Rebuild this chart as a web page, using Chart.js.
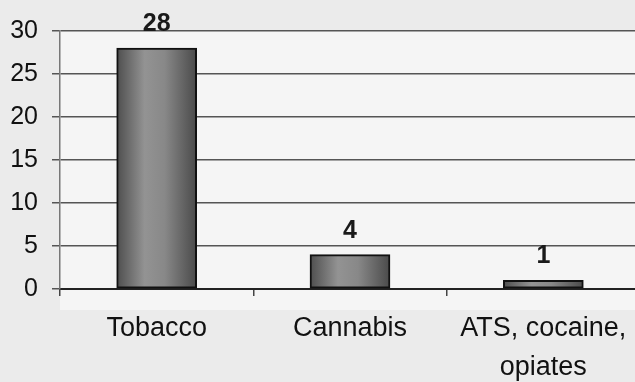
<!DOCTYPE html>
<html>
<head>
<meta charset="utf-8">
<script src="https://cdn.jsdelivr.net/npm/chart.js@4/dist/chart.umd.min.js"></script>
<style>
  html, body { margin: 0; padding: 0; background: #ebebeb; }
  #wrap { width: 635px; height: 382px; overflow: hidden; position: relative; }
  #c { display: block; }
</style>
</head>
<body>
<div id="wrap"><canvas id="c" width="641" height="382"></canvas></div>
<script>
// Substance categories and the number of cases for each
const categories = ['Tobacco', 'Cannabis', ['ATS, cocaine,', 'opiates']];
const cases = [28, 4, 1];
const axisMin = 0;
const axisMax = 30;
const axisStep = 5;

const FONT = '"Liberation Sans", Arial, sans-serif';

// Soft page tones behind and inside the plot area
const backdrop = {
  id: 'backdrop',
  beforeDraw(chart) {
    const { ctx, chartArea: a, width, height } = chart;
    ctx.save();
    ctx.fillStyle = '#ebebeb';
    ctx.fillRect(0, 0, width, height);
    ctx.fillStyle = '#f5f5f5';
    ctx.fillRect(a.left, a.top, a.right - a.left, a.bottom - a.top + 21);
    ctx.restore();
  }
};

// Value written above every bar
const valueLabels = {
  id: 'valueLabels',
  afterDatasetsDraw(chart) {
    const { ctx } = chart;
    const meta = chart.getDatasetMeta(0);
    ctx.save();
    ctx.font = 'bold 25px ' + FONT;
    ctx.fillStyle = '#1a1a1a';
    ctx.textAlign = 'center';
    ctx.textBaseline = 'alphabetic';
    meta.data.forEach((bar, i) => {
      ctx.fillText(String(cases[i]), bar.x, bar.y - 17);
    });
    ctx.restore();
  }
};

// Shaded, cylinder-like fill for each bar
function barShade(context) {
  const chart = context.chart;
  const xs = chart.scales.x;
  if (!xs || !chart.chartArea) return '#777';
  const cx = xs.getPixelForValue(context.dataIndex);
  const half = 40;
  const g = chart.ctx.createLinearGradient(cx - half, 0, cx + half, 0);
  g.addColorStop(0, '#4e4e4e');
  g.addColorStop(0.35, '#939393');
  g.addColorStop(0.6, '#888888');
  g.addColorStop(1, '#4a4a4a');
  return g;
}

new Chart(document.getElementById('c'), {
  type: 'bar',
  data: {
    labels: categories,
    datasets: [{
      data: cases,
      backgroundColor: barShade,
      borderColor: '#111',
      borderWidth: 2,
      borderSkipped: false,
      barThickness: 80
    }]
  },
  options: {
    responsive: false,
    animation: false,
    devicePixelRatio: 1,
    layout: { padding: { top: 31, right: 1, left: 0, bottom: 0 } },
    plugins: { legend: { display: false }, tooltip: { enabled: false } },
    scales: {
      x: {
        offset: true,
        grid: {
          offset: true,
          drawOnChartArea: false,
          drawTicks: true,
          tickLength: 7,
          color: '#444',
          lineWidth: 1.5
        },
        border: { color: '#222', width: 2 },
        ticks: {
          color: '#111',
          font: { family: FONT, size: 27, lineHeight: 1.45 },
          padding: 13,
          maxRotation: 0,
          autoSkip: false
        },
        afterFit(scale) { scale.height = 93; }
      },
      y: {
        min: axisMin,
        max: axisMax,
        ticks: {
          stepSize: axisStep,
          color: '#111',
          font: { family: FONT, size: 25 },
          padding: 14
        },
        grid: {
          color: '#555',
          lineWidth: 1.5,
          tickLength: 8
        },
        border: { color: '#777', width: 1.5 },
        afterFit(scale) { scale.width = 60; }
      }
    }
  },
  plugins: [backdrop, valueLabels]
});
</script>
</body>
</html>
